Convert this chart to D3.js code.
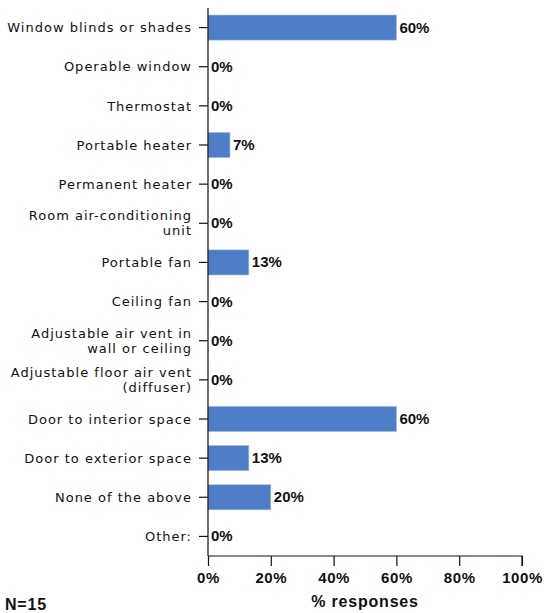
<!DOCTYPE html>
<html>
<head>
<meta charset="utf-8">
<script src="https://cdn.jsdelivr.net/npm/d3@7"></script>
<style>
  body { margin: 0; background: #fff; }
  .cat-label { font-family: "DejaVu Sans", Verdana, sans-serif; font-size: 13px; letter-spacing: 1px; fill: #111; }
  .val-label { font-family: "Liberation Sans", Arial, sans-serif; font-weight: bold; font-size: 15px; fill: #111; }
  .x-tick text { font-family: "Liberation Sans", Arial, sans-serif; font-weight: bold; font-size: 15px; letter-spacing: 0.6px; fill: #111; }
  .title { font-family: "Liberation Sans", Arial, sans-serif; font-weight: bold; font-size: 16px; letter-spacing: 0.8px; fill: #111; }
</style>
</head>
<body>
<div id="chart"></div>
<script>
// categories, multi-line labels split by \n
var categories = [
  'Window blinds or shades',
  'Operable window',
  'Thermostat',
  'Portable heater',
  'Permanent heater',
  'Room air-conditioning\nunit',
  'Portable fan',
  'Ceiling fan',
  'Adjustable air vent in\nwall or ceiling',
  'Adjustable floor air vent\n(diffuser)',
  'Door to interior space',
  'Door to exterior space',
  'None of the above',
  'Other:'
];
var values = [60, 0, 0, 7, 0, 0, 13, 0, 0, 0, 60, 13, 20, 0];
var xTicks = [0, 20, 40, 60, 80, 100];
var xTitle = '% responses';
var footnote = 'N=15';

var width = 544, height = 613;
var margin = {top: 8, right: 22, bottom: 57, left: 208};

var svg = d3.select('#chart').append('svg')
  .attr('width', width)
  .attr('height', height);

var x = d3.scaleLinear()
  .domain([0, 100])
  .range([margin.left, width - margin.right]);

var y = d3.scaleBand()
  .domain(categories)
  .range([margin.top, height - margin.bottom])
  .paddingInner(0.36)
  .paddingOuter(0.18);

var data = categories.map(function(c, i) { return {cat: c, val: values[i]}; });

// bars
svg.selectAll('.bar')
  .data(data)
  .enter().append('rect')
  .attr('class', 'bar')
  .attr('x', x(0))
  .attr('y', function(d) { return y(d.cat); })
  .attr('width', function(d) { return x(d.val) - x(0); })
  .attr('height', y.bandwidth())
  .attr('fill', '#4F7EC9')
  .attr('stroke', '#9db5e0')
  .attr('stroke-width', 0.6);

// value labels
svg.selectAll('.val-label')
  .data(data)
  .enter().append('text')
  .attr('class', 'val-label')
  .attr('x', function(d) { return x(d.val) + 3; })
  .attr('y', function(d) { return y(d.cat) + y.bandwidth() / 2; })
  .attr('dy', '0.33em')
  .text(function(d) { return d.val + '%'; });

// y axis
var yAxis = svg.append('g')
  .attr('transform', 'translate(' + x(0) + ',0)')
  .call(d3.axisLeft(y).tickSize(9).tickFormat(''));
yAxis.select('.domain').attr('stroke', '#111').attr('stroke-width', 1.2)
  .attr('d', 'M0,' + margin.top + 'V' + (height - margin.bottom));
yAxis.selectAll('.tick line').attr('stroke', '#111').attr('stroke-width', 1.2);

// category labels
svg.selectAll('.cat-label')
  .data(categories)
  .enter().append('text')
  .attr('class', 'cat-label')
  .attr('text-anchor', 'end')
  .each(function(c) {
    var lines = c.split('\n');
    var cy = y(c) + y.bandwidth() / 2;
    var t = d3.select(this);
    lines.forEach(function(l, i) {
      t.append('tspan')
        .attr('x', x(0) - 16)
        .attr('y', cy + (i - (lines.length - 1) / 2) * 15)
        .attr('dy', '0.36em')
        .text(l);
    });
  });

// x axis
var xAxis = svg.append('g')
  .attr('class', 'x-tick')
  .attr('transform', 'translate(0,' + (height - margin.bottom) + ')')
  .call(d3.axisBottom(x).tickValues(xTicks).tickSize(10).tickPadding(6)
    .tickFormat(function(d) { return d + '%'; }));
xAxis.select('.domain').attr('stroke', '#111').attr('stroke-width', 1.2)
  .attr('d', 'M' + x(0) + ',0H' + x(100) + 'V10');
xAxis.selectAll('.tick line').attr('stroke', '#111').attr('stroke-width', 1.2);

svg.append('text')
  .attr('class', 'title')
  .attr('text-anchor', 'middle')
  .attr('x', (x(0) + x(100)) / 2)
  .attr('y', 607)
  .text(xTitle);

svg.append('text')
  .attr('class', 'title')
  .attr('x', 5)
  .attr('y', 610)
  .text(footnote);
</script>
</body>
</html>
